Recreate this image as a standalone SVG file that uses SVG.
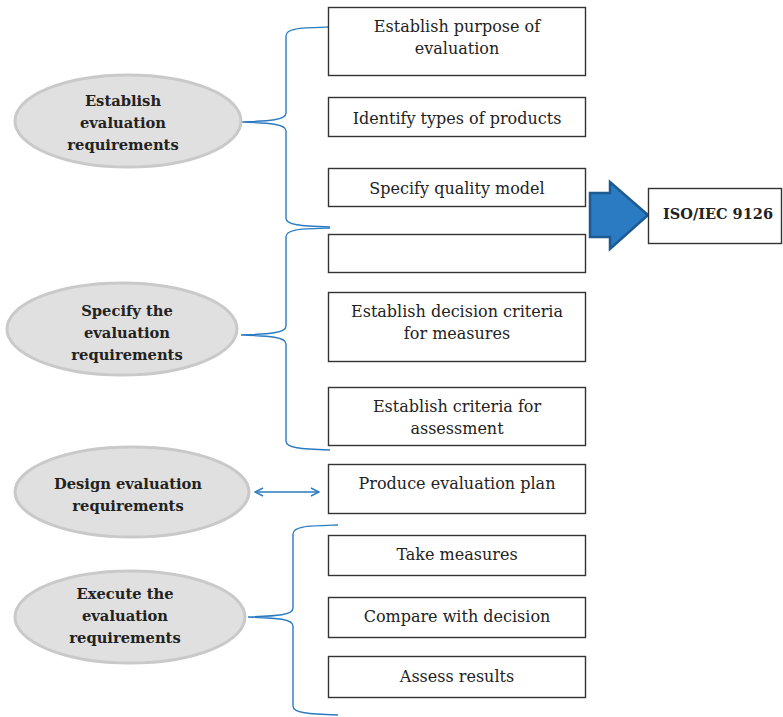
<svg xmlns="http://www.w3.org/2000/svg" width="783" height="717" viewBox="0 0 783 717">
<defs>
<style>
.box{fill:#fff;stroke:#333;stroke-width:1.4}
.ell{fill:#e0e0e0;stroke:#c9c9c9;stroke-width:3}
.t{font-family:"DejaVu Serif",serif;font-size:16px;fill:#222;text-anchor:middle}
.b{font-family:"DejaVu Serif",serif;font-size:14.7px;font-weight:bold;fill:#222;text-anchor:middle}
.c{fill:none;stroke:#2a7bc1;stroke-width:1.4}
</style>
<marker id="oa" viewBox="0 0 10 10" refX="9" refY="5" markerWidth="10" markerHeight="10" markerUnits="userSpaceOnUse" orient="auto-start-reverse">
<path d="M1,1 L9,5 L1,9" fill="none" stroke="#2a7bc1" stroke-width="1.4"/>
</marker>
</defs>
<rect width="783" height="717" fill="#fff"/>
<g id="connectors">
<path class="c" d="M330,27 C300,28 286,28 286,36 L286,113 C286,120 270,121 241,122 C270,123 286,124 286,131 L286,218 C286,225 300,226 330,227"/>
<path class="c" d="M330,228 C300,229 286,229 286,237 L286,326 C286,333 270,334 241,335 C270,336 286,337 286,344 L286,441 C286,448 300,449 330,450"/>
<path class="c" d="M338,525 C308,526 293,526 293,534 L293,608 C293,615 278,616 248,617 C278,618 293,619 293,626 L293,706 C293,713 308,714 338,715"/>
<line class="c" x1="255" y1="492" x2="319" y2="492" marker-start="url(#oa)" marker-end="url(#oa)"/>
</g>
<g id="n1"><ellipse class="ell" cx="128" cy="121" rx="113" ry="46"/><text class="b" x="123" y="106">Establish</text><text class="b" x="123" y="128">evaluation</text><text class="b" x="123" y="150">requirements</text></g>
<g id="n2"><ellipse class="ell" cx="122" cy="329" rx="115" ry="46"/><text class="b" x="127" y="316">Specify the</text><text class="b" x="127" y="338">evaluation</text><text class="b" x="127" y="360">requirements</text></g>
<g id="n3"><ellipse class="ell" cx="132" cy="492" rx="117" ry="45"/><text class="b" x="128" y="489">Design evaluation</text><text class="b" x="128" y="511">requirements</text></g>
<g id="n4"><ellipse class="ell" cx="130" cy="617" rx="115" ry="46"/><text class="b" x="125" y="599">Execute the</text><text class="b" x="125" y="621">evaluation</text><text class="b" x="125" y="643">requirements</text></g>
<g id="b1"><rect class="box" x="328.5" y="7.5" width="257" height="68"/><text class="t" x="457" y="32">Establish purpose of</text><text class="t" x="457" y="54">evaluation</text></g>
<g id="b2"><rect class="box" x="328.5" y="97.5" width="257" height="39"/><text class="t" x="457" y="124">Identify types of products</text></g>
<g id="b3"><rect class="box" x="328.5" y="168.5" width="257" height="38"/><text class="t" x="457" y="194">Specify quality model</text></g>
<g id="b4"><rect class="box" x="328.5" y="234.5" width="257" height="38"/></g>
<g id="b5"><rect class="box" x="328.5" y="292.5" width="257" height="69"/><text class="t" x="457" y="317">Establish decision criteria</text><text class="t" x="457" y="339">for measures</text></g>
<g id="b6"><rect class="box" x="328.5" y="387.5" width="257" height="58"/><text class="t" x="457" y="412">Establish criteria for</text><text class="t" x="457" y="434">assessment</text></g>
<g id="b7"><rect class="box" x="328.5" y="464.5" width="257" height="49"/><text class="t" x="457" y="489">Produce evaluation plan</text></g>
<g id="b8"><rect class="box" x="328.5" y="535.5" width="257" height="40"/><text class="t" x="457" y="560">Take measures</text></g>
<g id="b9"><rect class="box" x="328.5" y="597.5" width="257" height="40"/><text class="t" x="457" y="622">Compare with decision</text></g>
<g id="b10"><rect class="box" x="328.5" y="656.5" width="257" height="41"/><text class="t" x="457" y="682">Assess results</text></g>
<g id="arrow"><path d="M590,193 L610,193 L610,182 L648,215 L610,249 L610,237 L590,237 Z" fill="#2a7bc1" stroke="#1d5a91" stroke-width="2.5" stroke-linejoin="miter"/></g>
<g id="iso"><rect class="box" x="648.5" y="188.5" width="133" height="55" stroke="#555"/><text class="b" x="718" y="219" style="font-size:14.5px">ISO/IEC 9126</text></g>
</svg>
